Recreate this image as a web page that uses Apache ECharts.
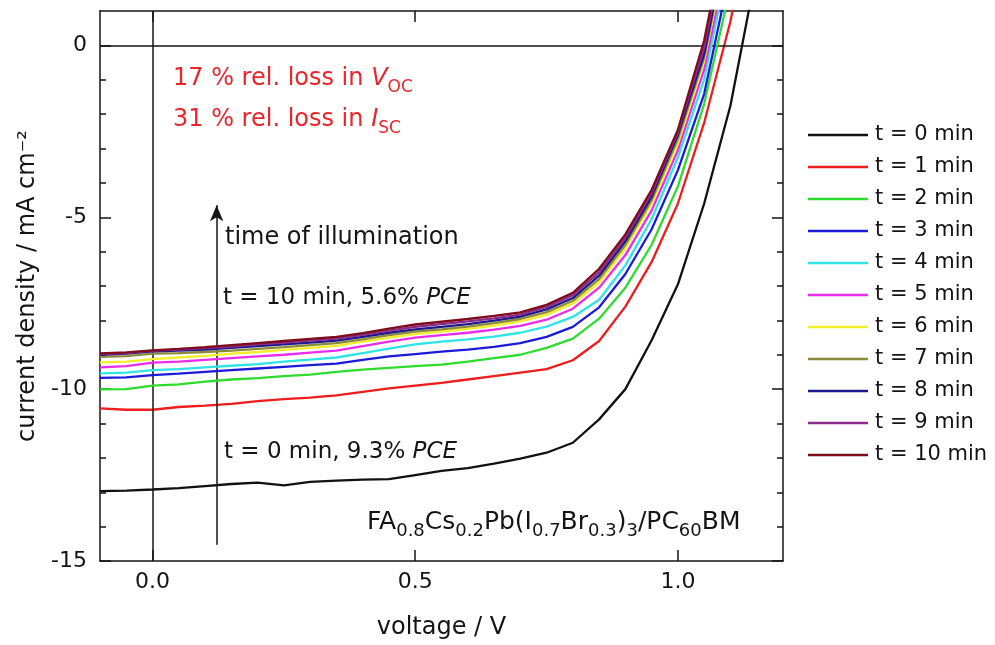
<!DOCTYPE html>
<html>
<head>
<meta charset="utf-8">
<script src="https://cdn.jsdelivr.net/npm/echarts@6/dist/echarts.min.js"></script>
<style>
  html, body { margin: 0; padding: 0; background: #ffffff; }
  #chart { width: 995px; height: 645px; }
</style>
</head>
<body>
<div id="chart"></div>
<script>
// Bias voltage (V) at which every J-V sweep was sampled
const voltage = [-0.1, -0.05, 0, 0.05, 0.1, 0.15, 0.2, 0.25, 0.3, 0.35, 0.4, 0.45, 0.5,
                 0.55, 0.6, 0.65, 0.7, 0.75, 0.8, 0.85, 0.9, 0.95, 1.0, 1.05, 1.1, 1.15];

// Current density (mA cm^-2) after each minute of illumination
const j_t0  = [-12.97, -12.95, -12.92, -12.88, -12.82, -12.76, -12.72, -12.80, -12.70, -12.66, -12.63, -12.62, -12.50,
               -12.38, -12.30, -12.17, -12.02, -11.85, -11.56, -10.88, -10.00, -8.58, -6.95, -4.60, -1.75, 2.2];
const j_t1  = [-10.56, -10.60, -10.60, -10.52, -10.48, -10.43, -10.35, -10.29, -10.25, -10.18, -10.08, -9.98, -9.90,
               -9.82, -9.72, -9.62, -9.52, -9.42, -9.16, -8.60, -7.60, -6.30, -4.60, -2.25, 0.7, 4.5];
const j_t2  = [-10.01, -10.00, -9.90, -9.86, -9.78, -9.72, -9.68, -9.62, -9.58, -9.50, -9.43, -9.38, -9.33,
               -9.29, -9.20, -9.10, -9.00, -8.80, -8.53, -7.95, -7.05, -5.80, -4.10, -1.70, 1.7, 5.5];
const j_t3  = [-9.67, -9.66, -9.59, -9.55, -9.50, -9.45, -9.40, -9.35, -9.30, -9.26, -9.15, -9.05, -8.98,
               -8.91, -8.85, -8.77, -8.66, -8.48, -8.19, -7.62, -6.65, -5.35, -3.63, -1.41, 2.2, 6.0];
const j_t4  = [-9.54, -9.52, -9.45, -9.42, -9.37, -9.32, -9.27, -9.20, -9.14, -9.08, -8.95, -8.82, -8.70,
               -8.62, -8.55, -8.47, -8.36, -8.18, -7.90, -7.40, -6.40, -5.05, -3.26, -0.99, 2.7, 6.5];
const j_t5  = [-9.37, -9.33, -9.23, -9.20, -9.15, -9.10, -9.05, -9.00, -8.94, -8.88, -8.75, -8.62, -8.50,
               -8.43, -8.36, -8.27, -8.16, -7.98, -7.66, -7.05, -6.10, -4.80, -3.05, -0.70, 3.0, 7.0];
const j_t6  = [-9.22, -9.20, -9.13, -9.08, -9.03, -8.97, -8.92, -8.86, -8.80, -8.74, -8.62, -8.50, -8.40,
               -8.33, -8.25, -8.15, -8.03, -7.84, -7.51, -6.90, -5.90, -4.60, -2.85, -0.45, 3.3, 7.0];
const j_t7  = [-9.06, -9.04, -8.97, -8.95, -8.92, -8.88, -8.83, -8.78, -8.72, -8.66, -8.55, -8.43, -8.33,
               -8.26, -8.18, -8.08, -7.96, -7.76, -7.43, -6.80, -5.80, -4.50, -2.72, -0.35, 3.45, 7.3];
const j_t8  = [-9.00, -8.97, -8.90, -8.88, -8.85, -8.80, -8.75, -8.70, -8.65, -8.59, -8.48, -8.36, -8.26,
               -8.19, -8.11, -8.01, -7.89, -7.68, -7.35, -6.70, -5.70, -4.40, -2.60, -0.25, 3.6, 7.5];
const j_t9  = [-8.98, -8.95, -8.88, -8.85, -8.81, -8.76, -8.70, -8.65, -8.59, -8.53, -8.42, -8.30, -8.19,
               -8.11, -8.03, -7.94, -7.83, -7.61, -7.27, -6.60, -5.60, -4.30, -2.52, -0.05, 3.8, 7.7];
const j_t10 = [-8.96, -8.93, -8.87, -8.83, -8.78, -8.72, -8.66, -8.60, -8.54, -8.48, -8.37, -8.24, -8.12,
               -8.04, -7.96, -7.87, -7.77, -7.55, -7.20, -6.50, -5.50, -4.20, -2.45, 0.15, 4.0, 8.0];

const sweeps = [j_t0, j_t1, j_t2, j_t3, j_t4, j_t5, j_t6, j_t7, j_t8, j_t9, j_t10];
const sweepNames = ['t = 0 min', 't = 1 min', 't = 2 min', 't = 3 min', 't = 4 min', 't = 5 min',
                    't = 6 min', 't = 7 min', 't = 8 min', 't = 9 min', 't = 10 min'];
const sweepColors = ['#111111', '#ee1c1c', '#2edc2e', '#1a1ad8', '#2ee4e4', '#ec2cec',
                     '#f2ee2a', '#8a8a38', '#1a1a8a', '#8a2a8a', '#7e0c1c'];

// Axis ticks and labels
const xTickValues = [0, 0.5, 1.0];
const yMajorTicks = [-15, -10, -5, 0];
const yMinorTicks = [-14, -13, -12, -11, -9, -8, -7, -6, -4, -3, -2, -1];

// Illumination arrow: voltage position and current span
const arrowVoltage = 0.122;
const arrowFrom = -14.53;
const arrowTo = -4.65;

const FONT = 'DejaVu Sans';
const INK = '#141414';
const NOTE_RED = '#e8262c';

const chart = echarts.init(document.getElementById('chart'), null, { renderer: 'canvas' });

// Lays out a run of text pieces (normal, italic, subscript) left to right
const measureCtx = document.createElement('canvas').getContext('2d');
function textRun(x, y, parts, color) {
  const children = [];
  let cx = x;
  parts.forEach(p => {
    const font = (p.italic ? 'italic ' : '') + p.size + 'px "' + FONT + '"';
    measureCtx.font = font;
    children.push({
      type: 'text', x: cx, y: y + (p.dy || 0), silent: true,
      style: { text: p.text, font: font, fill: color, align: 'left', verticalAlign: 'middle' }
    });
    cx += measureCtx.measureText(p.text).width;
  });
  return children;
}

function axisLineStyle() { return { color: INK, width: 1.5 }; }

const xAxisBase = {
  type: 'value', min: -0.1, max: 1.2,
  splitLine: { show: false },
  axisLine: { show: true, onZero: false, lineStyle: axisLineStyle() },
  axisTick: { show: true, inside: true, length: 11, customValues: xTickValues, lineStyle: axisLineStyle() }
};
const yAxisBase = {
  type: 'value', min: -15, max: 1,
  splitLine: { show: false },
  axisLine: { show: true, onZero: false, lineStyle: axisLineStyle() },
  axisTick: { show: true, inside: true, length: 11, customValues: yMajorTicks, lineStyle: axisLineStyle() },
  axisLabel: { show: false }
};
const yMinorBase = {
  type: 'value', min: -15, max: 1,
  splitLine: { show: false },
  axisLine: { show: false, onZero: false },
  axisTick: { show: true, inside: true, length: 6, customValues: yMinorTicks, lineStyle: axisLineStyle() },
  axisLabel: { show: false }
};

const series = sweeps.map((vals, i) => ({
  name: sweepNames[i],
  type: 'line',
  data: voltage.map((v, k) => [v, vals[k]]),
  symbol: 'none',
  smooth: false,
  clip: true,
  lineStyle: { color: sweepColors[i], width: 2.3 },
  itemStyle: { color: sweepColors[i] },
  emphasis: { disabled: true },
  z: 3 + i
}));

// Zero reference lines and the illumination-time arrow
series[0].markLine = {
  silent: true,
  animation: false,
  symbol: 'none',
  label: { show: false },
  emphasis: { disabled: true },
  lineStyle: { color: INK, width: 1.5, type: 'solid' },
  data: [
    { xAxis: 0 },
    { yAxis: 0 },
    [
      { coord: [arrowVoltage, arrowFrom], symbol: 'none' },
      { coord: [arrowVoltage, arrowTo], symbol: 'arrow', symbolSize: [10, 16] }
    ]
  ]
};

const option = {
  animation: false,
  backgroundColor: '#ffffff',
  grid: { left: 100, right: 212, top: 11, bottom: 84, containLabel: false },
  xAxis: [
    Object.assign({}, xAxisBase, {
      position: 'bottom',
      name: 'voltage / V', nameLocation: 'middle', nameGap: 55,
      nameTextStyle: { fontFamily: FONT, fontSize: 24, color: INK },
      axisLabel: { show: true, margin: 10, customValues: xTickValues,
                   formatter: v => v.toFixed(1), fontFamily: FONT, fontSize: 22, color: INK }
    }),
    Object.assign({}, xAxisBase, { position: 'top', axisLabel: { show: false } })
  ],
  yAxis: [
    Object.assign({}, yAxisBase, {
      position: 'left',
      name: 'current density / mA cm\u207B\u00B2', nameLocation: 'middle', nameGap: 58,
      nameTextStyle: { fontFamily: FONT, fontSize: 24, color: INK },
      axisLabel: { show: true, margin: 13, customValues: yMajorTicks,
                   formatter: v => String(v), fontFamily: FONT, fontSize: 22, color: INK }
    }),
    Object.assign({}, yMinorBase, { position: 'left' }),
    Object.assign({}, yAxisBase, { position: 'right' }),
    Object.assign({}, yMinorBase, { position: 'right' })
  ],
  legend: {
    orient: 'vertical', left: 808, top: 123, padding: 0,
    itemWidth: 60, itemHeight: 14, itemGap: 8,
    icon: 'path://M0,0H60V2.5H0Z',
    data: sweepNames,
    selectedMode: false,
    textStyle: { fontFamily: FONT, fontSize: 21, color: INK, lineHeight: 24, padding: [0, 0, 0, 2] }
  },
  series: series,
  graphic: {
    elements: [
      { type: 'group', silent: true, children: textRun(173, 79, [
        { text: '17 % rel. loss in ', size: 24 },
        { text: 'V', size: 24, italic: true },
        { text: 'OC', size: 17, dy: 9 }
      ], NOTE_RED) },
      { type: 'group', silent: true, children: textRun(173, 120, [
        { text: '31 % rel. loss in ', size: 24 },
        { text: 'I', size: 24, italic: true },
        { text: 'SC', size: 17, dy: 9 }
      ], NOTE_RED) },
      { type: 'group', silent: true, children: textRun(225, 238, [
        { text: 'time of illumination', size: 24 }
      ], INK) },
      { type: 'group', silent: true, children: textRun(223, 298, [
        { text: 't = 10 min, 5.6% ', size: 23 },
        { text: 'PCE', size: 23, italic: true }
      ], INK) },
      { type: 'group', silent: true, children: textRun(224, 452, [
        { text: 't = 0 min, 9.3% ', size: 23 },
        { text: 'PCE', size: 23, italic: true }
      ], INK) },
      { type: 'group', silent: true, children: textRun(367, 522, [
        { text: 'FA', size: 25 }, { text: '0.8', size: 18, dy: 9 },
        { text: 'Cs', size: 25 }, { text: '0.2', size: 18, dy: 9 },
        { text: 'Pb(I', size: 25 }, { text: '0.7', size: 18, dy: 9 },
        { text: 'Br', size: 25 }, { text: '0.3', size: 18, dy: 9 },
        { text: ')', size: 25 }, { text: '3', size: 18, dy: 9 },
        { text: '/PC', size: 25 }, { text: '60', size: 18, dy: 9 },
        { text: 'BM', size: 25 }
      ], INK) }
    ]
  }
};

chart.setOption(option);
</script>
</body>
</html>
